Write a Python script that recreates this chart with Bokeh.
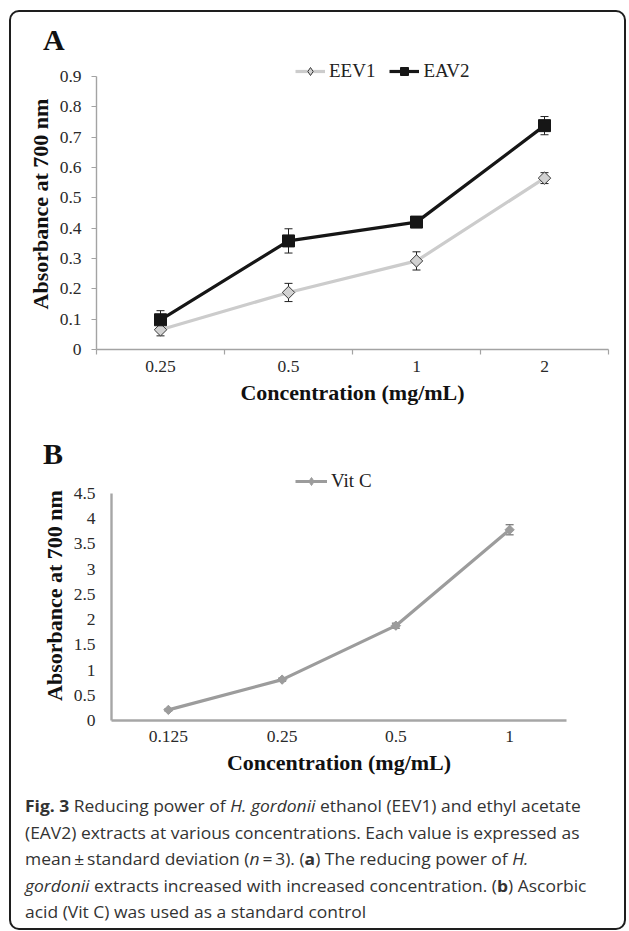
import numpy as np
from bokeh.plotting import figure
from bokeh.models import (Range1d, FixedTicker, Legend, LegendItem, Whisker, TeeHead,
                          ColumnDataSource, Div)
from bokeh.layouts import column, row
from bokeh.embed import file_html
from bokeh.resources import INLINE

# ---------------- data ----------------
conc_a = ["0.25", "0.5", "1", "2"]
eev1 = [0.065, 0.188, 0.292, 0.565]
eev1_sd = [0.02, 0.03, 0.03, 0.018]
eav2 = [0.098, 0.358, 0.42, 0.738]
eav2_sd = [0.03, 0.04, 0.012, 0.03]
ticks_a = ["0", "0.1", "0.2", "0.3", "0.4", "0.5", "0.6", "0.7", "0.8", "0.9"]

conc_b = ["0.125", "0.25", "0.5", "1"]
vitc = [0.21, 0.81, 1.88, 3.78]
vitc_sd = [0.02, 0.03, 0.05, 0.1]
ticks_b = ["0", "0.5", "1", "1.5", "2", "2.5", "3", "3.5", "4", "4.5"]

SERIF = "Liberation Serif"
W = 613


def base_fig(height, cats, yticks, headroom, borders, axis_color, axis_w, ticks_out):
    n = len(cats)
    yvals = [float(t) for t in yticks]
    frame_h = height - borders[2]
    plot_h = frame_h - headroom           # pixels spanned by the axis range
    y_end = yvals[-1] + headroom * (yvals[-1] - yvals[0]) / plot_h
    p = figure(width=W, height=height, output_backend="svg", toolbar_location=None,
               title=None,
               x_range=Range1d(0, n), y_range=Range1d(yvals[0], y_end),
               min_border_top=0, min_border_right=borders[1],
               min_border_bottom=borders[2], min_border_left=borders[3])
    p.outline_line_color = None
    p.grid.visible = False
    p.background_fill_color = "white"
    p.border_fill_color = "white"
    centers = [i + 0.5 for i in range(n)]
    xa = p.xaxis[0]
    xa.ticker = FixedTicker(ticks=centers, minor_ticks=list(range(n + 1)) if ticks_out else [])
    xa.major_label_overrides = {c: lab for c, lab in zip(centers, cats)}
    xa.major_tick_in = 0
    xa.major_tick_out = 0
    xa.minor_tick_in = 0
    xa.minor_tick_out = 5 if ticks_out else 0
    ya = p.yaxis[0]
    ya.ticker = FixedTicker(ticks=yvals, minor_ticks=[])
    ya.major_label_overrides = {v: t for v, t in zip(yvals, yticks)}
    ya.bounds = (yvals[0], yvals[-1])
    ya.major_tick_in = 0
    ya.major_tick_out = 5 if ticks_out else 0
    ya.minor_tick_out = 0
    ya.minor_tick_in = 0
    for ax in (xa, ya):
        ax.axis_line_color = axis_color
        ax.axis_line_width = axis_w
        ax.major_tick_line_color = axis_color
        ax.minor_tick_line_color = axis_color
        ax.major_tick_line_width = 1.2
        ax.minor_tick_line_width = 1.2
        ax.major_label_text_font = SERIF
        ax.major_label_text_font_size = "17.5px"
        ax.major_label_text_color = "#2a2a2a"
        ax.axis_label_text_font = SERIF
        ax.axis_label_text_font_style = "bold"
        ax.axis_label_text_font_size = "22px"
        ax.axis_label_text_color = "#111111"
    xa.axis_label = "Concentration (mg/mL)"
    ya.axis_label = "Absorbance at 700 nm"
    xa.major_label_standoff = 10 if not ticks_out else 6
    xa.axis_label_standoff = 5
    ya.major_label_standoff = 16 if not ticks_out else 10
    ya.axis_label_standoff = 4
    return p, centers


def whisk(p, xs, ys, sd, color="#222222"):
    src = ColumnDataSource(dict(x=xs, lo=[y - s for y, s in zip(ys, sd)],
                                hi=[y + s for y, s in zip(ys, sd)]))
    w = Whisker(source=src, base="x", lower="lo", upper="hi", dimension="height",
                line_color=color, line_width=1,
                upper_head=TeeHead(size=8, line_color=color, line_width=1),
                lower_head=TeeHead(size=8, line_color=color, line_width=1))
    p.add_layout(w)


def letter(txt, height, top):
    html = (f'<div style="position:relative;left:32px;top:{top}px;font-family:\'{SERIF}\';'
            'font-weight:bold;font-size:30px;line-height:30px;color:#111111;">'
            f'{txt}</div>')
    return Div(text=html, width=W, height=height, margin=0, styles={"overflow": "visible"})


def make_legend(items, loc, gw):
    return Legend(items=items, location=loc, orientation="horizontal",
                  glyph_width=gw, glyph_height=20, label_height=20,
                  label_standoff=4, spacing=14, padding=0, margin=0,
                  label_text_font=SERIF, label_text_font_size="19px",
                  label_text_color="#222222", border_line_color=None,
                  background_fill_alpha=0)


# ---------------- panel A ----------------
div_a = letter("A", 46, 13)
pa, xa_c = base_fig(367, conc_a, ticks_a, 18, (0, 16, 76, 85), "#a3a3a3", 1.4, True)
l1 = pa.line(xa_c, eev1, line_color="#cccccc", line_width=3.2)
whisk(pa, xa_c, eev1, eev1_sd)
# diamond used for the legend key, hidden under the rotated-square markers
k1 = pa.scatter(xa_c, eev1, marker="diamond", size=11.5,
                fill_color="#d2d2d2", line_color="#3a3a3a", line_width=1)
pa.scatter(xa_c, eev1, marker="square", angle=np.pi / 4, size=8.8,
           fill_color="#d2d2d2", line_color="#3a3a3a", line_width=1)
l2 = pa.line(xa_c, eav2, line_color="#161616", line_width=3.2)
whisk(pa, xa_c, eav2, eav2_sd)
m2 = pa.scatter(xa_c, eav2, marker="square", size=12,
                fill_color="#161616", line_color="#161616")
leg_a = make_legend([LegendItem(label="EEV1", renderers=[l1, k1]),
                     LegendItem(label="EAV2", renderers=[l2, m2])], (199, 267), 30)
pa.add_layout(leg_a, "center")

# ---------------- panel B ----------------
div_b = letter("B", 45, 14)
pb, xb_c = base_fig(323, conc_b, ticks_b, 23, (0, 58, 73, 100), "#a6a6a6", 2.4, False)
l3 = pb.line(xb_c, vitc, line_color="#9c9c9c", line_width=3.2)
whisk(pb, xb_c, vitc, vitc_sd, color="#555555")
k3 = pb.scatter(xb_c, vitc, marker="diamond", size=8,
                fill_color="#9c9c9c", line_color="#9c9c9c")
pb.scatter(xb_c, vitc, marker="square", angle=np.pi / 4, size=6.6,
           fill_color="#9c9c9c", line_color="#9c9c9c")
leg_b = make_legend([LegendItem(label="Vit C", renderers=[l3, k3])], (184, 228), 32)
pb.add_layout(leg_b, "center")

# ---------------- caption ----------------
caption_lines = [
    "<b>Fig. 3</b> Reducing power of <i>H. gordonii</i> ethanol (EEV1) and ethyl acetate",
    "(EAV2) extracts at various concentrations. Each value is expressed as",
    "mean\u2009\u00b1\u2009standard deviation (<i>n</i>\u2009=\u20093). (<b>a</b>) The reducing power of <i>H.</i>",
    "<i>gordonii</i> extracts increased with increased concentration. (<b>b</b>) Ascorbic",
    "acid (Vit C) was used as a standard control",
]
caption_html = ('<div style="position:relative;left:14px;top:0px;display:inline-block;'
                'transform:scaleX(1.09);transform-origin:0 0;'
                'white-space:nowrap;font-family:\'Open Sans\';font-size:16px;line-height:26.5px;'
                'color:#333333;">' + "<br>".join(caption_lines) + "</div>")
div_c = Div(text=caption_html, width=W, height=135, margin=0, styles={"overflow": "visible"})

layout = column(div_a, row(pa), div_b, row(pb), div_c, spacing=0,
                styles={"position": "absolute", "left": "9px", "top": "10px",
                        "border": "2px solid #1e1e1e", "border-radius": "10px",
                        "background": "white"})

open("out.html", "w").write(file_html(layout, INLINE))
